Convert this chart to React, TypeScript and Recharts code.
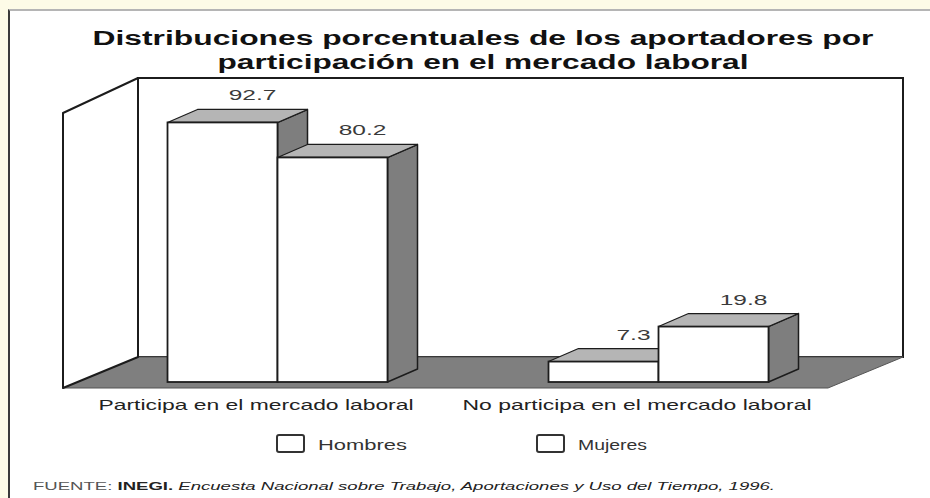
import React from "react";
import { BarChart, Bar, XAxis, YAxis, Legend, LabelList, Customized } from "recharts";

const categories = ["Participa en el mercado laboral", "No participa en el mercado laboral"];
const hombres = [92.7, 7.3];
const mujeres = [80.2, 19.8];
const seriesNames = ["Hombres", "Mujeres"];
const titleLines = [
  "Distribuciones porcentuales de los aportadores por",
  "participación en el mercado laboral",
];
const sourceLabel = "FUENTE:";
const sourceOrg = "INEGI.";
const sourceText = "Encuesta Nacional sobre Trabajo, Aportaciones y Uso del Tiempo, 1996.";

const data = categories.map((c, i) => ({
  category: c,
  [seriesNames[0]]: hombres[i],
  [seriesNames[1]]: mujeres[i],
}));

const FONT = "'Liberation Sans', Arial, Helvetica, sans-serif";
const STROKE = "#1c1c1c";
const DX = 30;
const DY = -13;

const Box3D = (props: any) => {
  const { x, y, width: w, height: h } = props;
  if (w == null || h == null) return null;
  const top = `${x},${y} ${x + DX},${y + DY} ${x + w + DX},${y + DY} ${x + w},${y}`;
  const side = `${x + w},${y} ${x + w + DX},${y + DY} ${x + w + DX},${y + h + DY} ${x + w},${y + h}`;
  return (
    <g>
      <polygon points={side} fill="#7e7e7e" stroke={STROKE} strokeWidth={1.5} strokeLinejoin="round" />
      <polygon points={top} fill="#b5b5b5" stroke={STROKE} strokeWidth={1.2} strokeLinejoin="round" />
      <rect x={x} y={y} width={w} height={h} fill="#ffffff" stroke={STROKE} strokeWidth={1.8} />
    </g>
  );
};

const ValueLabel = (props: any) => {
  const { x, y, width, value } = props;
  const cx = x + width / 2 + 30;
  const by = y - 22;
  return (
    <text
      transform={`translate(${cx},${by}) scale(1.75,1)`}
      textAnchor="middle"
      fontFamily={FONT}
      fontSize={14}
      fill="#3a3a3a"
    >
      {value}
    </text>
  );
};

const tickWidths: Record<string, number> = {
  [categories[0]]: 315,
  [categories[1]]: 349,
};

const CatTick = (props: any) => {
  const { x, payload } = props;
  return (
    <text
      x={x - 22}
      y={410}
      textAnchor="middle"
      fontFamily={FONT}
      fontSize={15}
      fill="#222"
      textLength={tickWidths[payload.value]}
      lengthAdjust="spacingAndGlyphs"
    >
      {payload.value}
    </text>
  );
};

const Scene = () => {
  // 3D frame (walls and floor) drawn behind the bars
  const backWall = { x: 138, y: 78, w: 765, h: 279 };
  const floor = "63,388 828,388 903,357 138,357";
  const leftWall = "63,113 138,78 138,357 63,388";
  return (
    <g>
      <text
        x={483}
        y={45}
        textAnchor="middle"
        fontFamily={FONT}
        fontWeight="bold"
        fontSize={20}
        fill="#111"
        textLength={781}
        lengthAdjust="spacingAndGlyphs"
      >
        {titleLines[0]}
      </text>
      <text
        x={483}
        y={69}
        textAnchor="middle"
        fontFamily={FONT}
        fontWeight="bold"
        fontSize={20}
        fill="#111"
        textLength={531}
        lengthAdjust="spacingAndGlyphs"
      >
        {titleLines[1]}
      </text>
      <rect x={backWall.x} y={backWall.y} width={backWall.w} height={backWall.h} fill="#fff" stroke={STROKE} strokeWidth={2} />
      <polygon points={floor} fill="#7f7f7f" stroke="#555" strokeWidth={1} />
      <polygon points={leftWall} fill="#fff" stroke={STROKE} strokeWidth={2} strokeLinejoin="round" />
      <text
        x={33}
        y={490}
        fontFamily={FONT}
        fontSize={10.5}
        fill="#222"
        textLength={742}
        lengthAdjust="spacingAndGlyphs"
      >
        <tspan fill="#555">{sourceLabel} </tspan>
        <tspan fontWeight="bold">{sourceOrg} </tspan>
        <tspan fontStyle="italic">{sourceText}</tspan>
      </text>
    </g>
  );
};

const legendPos = [277, 537];
const legendTextW = [89, 69];

const LegendContent = (props: any) => {
  const payload = props.payload || [];
  return (
    <svg width={930} height={40} style={{ display: "block" }}>
      {payload.map((p: any, i: number) => (
        <g key={p.value}>
          <rect x={legendPos[i]} y={10} width={27} height={17} rx={2} fill="#fff" stroke="#333" strokeWidth={2} />
          <text
            x={legendPos[i] + 41}
            y={25}
            fontFamily={FONT}
            fontSize={14}
            fill="#333"
            textLength={legendTextW[i]}
            lengthAdjust="spacingAndGlyphs"
          >
            {p.value}
          </text>
        </g>
      ))}
    </svg>
  );
};

export default function App() {
  return (
    <div style={{ position: "absolute", left: 0, top: 0, width: 930, height: 498, background: "#fdfbe7", overflow: "hidden" }}>
      <div
        style={{
          position: "absolute",
          left: 8,
          top: 9,
          right: 0,
          bottom: 0,
          background: "#ffffff",
          borderTop: "2px solid #b5b5b5",
          borderLeft: "2px solid #3a3a3a",
        }}
      />
      <div style={{ position: "absolute", left: 0, top: 0 }}>
        <BarChart
          width={930}
          height={498}
          data={data}
          margin={{ top: 102, right: 80.5, bottom: 46, left: 87.5 }}
          barCategoryGap="21%"
          barGap={0}
        >
          <Customized component={Scene} />
          <XAxis dataKey="category" height={30} axisLine={false} tickLine={false} tick={CatTick} interval={0} />
          <YAxis hide domain={[0, 100]} />
          <Legend
            content={LegendContent}
            wrapperStyle={{ position: "absolute", left: 0, top: 425, width: 930, height: 40 }}
          />
          <Bar dataKey={seriesNames[0]} shape={Box3D} isAnimationActive={false}>
            <LabelList dataKey={seriesNames[0]} content={ValueLabel} />
          </Bar>
          <Bar dataKey={seriesNames[1]} shape={Box3D} isAnimationActive={false}>
            <LabelList dataKey={seriesNames[1]} content={ValueLabel} />
          </Bar>
        </BarChart>
      </div>
    </div>
  );
}
